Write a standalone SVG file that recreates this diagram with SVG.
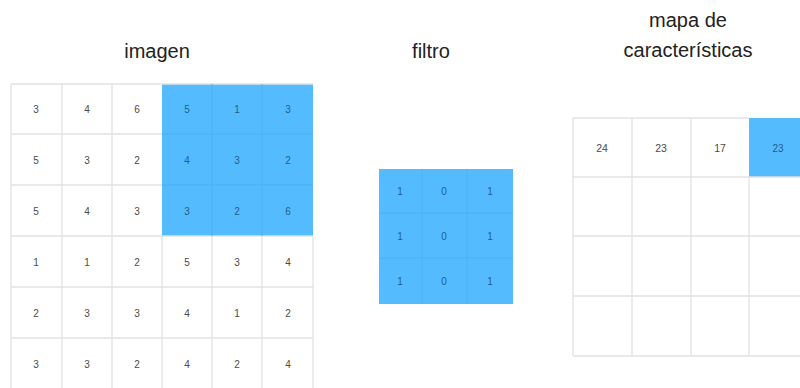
<svg xmlns="http://www.w3.org/2000/svg" width="800" height="388" viewBox="0 0 800 388">
<style>
.title{font-family:"Liberation Sans",Arial,sans-serif;font-size:20px;fill:#222;text-anchor:middle}
.n{font-family:"Liberation Sans",Arial,sans-serif;font-size:10px;fill:#4a4a4a;text-anchor:middle;dominant-baseline:central}
.nb{font-family:"Liberation Sans",Arial,sans-serif;font-size:10px;fill:#235f88;text-anchor:middle;dominant-baseline:central}
.nf{font-family:"Liberation Sans",Arial,sans-serif;font-size:10.5px;fill:#4a4a4a;text-anchor:middle;dominant-baseline:central}
.g{stroke:#e2e2e2;stroke-width:1.3;fill:none}
.gb{stroke:#4fb0ee;stroke-width:1;fill:none}
.blue{fill:#55bbff}
</style>
<rect width="800" height="388" fill="#fff"/>
<g id="titles">
<text class="title" x="157" y="58">imagen</text>
<text class="title" x="431" y="58">filtro</text>
<text class="title" x="688" y="27">mapa de</text>
<text class="title" x="688" y="57">características</text>
</g>
<g id="imagen">
<rect class="blue" x="162" y="84" width="151" height="152"/>
<path class="g" d="M11 84H313M11 134H162M11 185H162M11 236H313M11 287H313M11 338H313M11 84V388M62 84V388M112 84V388M162 236V388M212 236V388M262 236V388M313 236V388"/>
<path class="gb" d="M162 134H313M162 185H313M212 84V236M262 84V236"/>
<text class="n" x="36" y="109">3</text><text class="n" x="87" y="109">4</text><text class="n" x="137" y="109">6</text>
<text class="nb" x="187" y="109">5</text><text class="nb" x="237" y="109">1</text><text class="nb" x="288" y="109">3</text>
<text class="n" x="36" y="160">5</text><text class="n" x="87" y="160">3</text><text class="n" x="137" y="160">2</text>
<text class="nb" x="187" y="160">4</text><text class="nb" x="237" y="160">3</text><text class="nb" x="288" y="160">2</text>
<text class="n" x="36" y="211">5</text><text class="n" x="87" y="211">4</text><text class="n" x="137" y="211">3</text>
<text class="nb" x="187" y="211">3</text><text class="nb" x="237" y="211">2</text><text class="nb" x="288" y="211">6</text>
<text class="n" x="36" y="262">1</text><text class="n" x="87" y="262">1</text><text class="n" x="137" y="262">2</text>
<text class="n" x="187" y="262">5</text><text class="n" x="237" y="262">3</text><text class="n" x="288" y="262">4</text>
<text class="n" x="36" y="313">2</text><text class="n" x="87" y="313">3</text><text class="n" x="137" y="313">3</text>
<text class="n" x="187" y="313">4</text><text class="n" x="237" y="313">1</text><text class="n" x="288" y="313">2</text>
<text class="n" x="36" y="364">3</text><text class="n" x="87" y="364">3</text><text class="n" x="137" y="364">2</text>
<text class="n" x="187" y="364">4</text><text class="n" x="237" y="364">2</text><text class="n" x="288" y="364">4</text>
</g>
<g id="filtro">
<rect class="blue" x="379" y="169" width="134" height="135"/>
<path class="gb" d="M379 213H513M379 258H513M422 169V304M467 169V304"/>
<text class="nb" x="400" y="191">1</text><text class="nb" x="444" y="191">0</text><text class="nb" x="490" y="191">1</text>
<text class="nb" x="400" y="236">1</text><text class="nb" x="444" y="236">0</text><text class="nb" x="490" y="236">1</text>
<text class="nb" x="400" y="281">1</text><text class="nb" x="444" y="281">0</text><text class="nb" x="490" y="281">1</text>
</g>
<g id="mapa">
<rect class="blue" x="749" y="118" width="60" height="59"/>
<path class="g" d="M573 118H749M573 177H810M573 236H810M573 296H810M573 356H810M573 118V356M632 118V356M691 118V356M749 177V356"/>
<text class="nf" x="602" y="148">24</text><text class="nf" x="661" y="148">23</text><text class="nf" x="720" y="148">17</text>
<text class="nb" x="778" y="148" font-size="10.5">23</text>
</g>
<g id="connectors"/>
</svg>
